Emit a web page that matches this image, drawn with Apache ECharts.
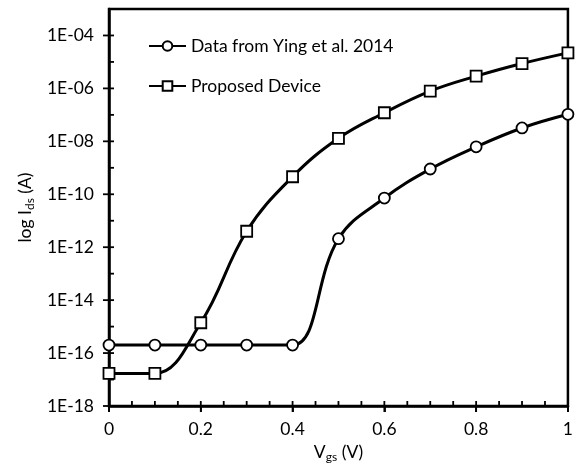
<!DOCTYPE html>
<html>
<head>
<meta charset="utf-8">
<script src="https://cdn.jsdelivr.net/npm/echarts@6/dist/echarts.min.js"></script>
<style>html,body{margin:0;padding:0;background:#fff;}#c{width:576px;height:471px;}</style>
</head>
<body>
<div id="c"></div>
<script>
var vgs = [0, 0.1, 0.2, 0.3, 0.4, 0.5, 0.6, 0.7, 0.8, 0.9, 1.0];
var yingData = [2e-16, 2e-16, 2e-16, 2e-16, 2e-16, 2.1e-12, 7.2e-11, 9e-10, 6.2e-9, 3.2e-8, 1.05e-7];
var proposedData = [1.7e-17, 1.7e-17, 1.4e-15, 4e-12, 4.6e-10, 1.3e-8, 1.2e-7, 7.9e-7, 2.9e-6, 8.7e-6, 2.2e-5];
var seriesNames = ['Data from Ying et al. 2014', 'Proposed Device'];
var xTickValues = [0, 0.2, 0.4, 0.6, 0.8, 1];
var yTickExponents = [-18, -16, -14, -12, -10, -8, -6, -4];
var yMin = 1e-18, yMax = 1e-3;

function pair(xs, ys) { return xs.map(function (x, i) { return [x, ys[i]]; }); }
function fmtExp(v) {
  var e = Math.round(Math.log10(v));
  if (yTickExponents.indexOf(e) < 0) return '';
  var a = Math.abs(e);
  return '1E' + (e < 0 ? '-' : '+') + (a < 10 ? '0' : '') + a;
}

// tick positions (minor every 0.05 on x, every decade on y)
var xTickData = [];
for (var i = 0; i <= 20; i++) {
  var xv = i / 20;
  var maj = xTickValues.some(function (t) { return Math.abs(t - xv) < 1e-9; }) ? 1 : 0;
  xTickData.push([xv, yMin, maj]);
}
var yTickData = [];
for (var e = -18; e <= -3; e++) {
  yTickData.push([0, Math.pow(10, e), yTickExponents.indexOf(e) >= 0 ? 1 : 0]);
}

var FONT = 'Lato';
var FS = 17.5;
var chart = echarts.init(document.getElementById('c'), null, { renderer: 'canvas' });
chart.setOption({
  animation: false,
  backgroundColor: '#fff',
  textStyle: { fontFamily: FONT, color: '#000' },
  grid: { left: 109, right: 6, top: 9, bottom: 65, show: true, borderColor: '#000', borderWidth: 2.5 },
  legend: {
    orient: 'vertical', left: 143, top: 32, itemGap: 22, itemWidth: 37, itemHeight: 12,
    textStyle: { fontFamily: FONT, fontSize: FS, color: '#000' },
    data: seriesNames
  },
  xAxis: {
    type: 'value', min: 0, max: 1, interval: 0.2,
    name: '{m|V}{s|gs}{m| (V)}', nameLocation: 'middle', nameGap: 36,
    nameTextStyle: { rich: { m: { fontFamily: FONT, fontSize: FS, color: '#000' }, s: { fontFamily: FONT, fontSize: 12, color: '#000', verticalAlign: 'bottom', padding: [9, 0, 0, 0] } } },
    axisLine: { show: true, lineStyle: { color: '#000', width: 2.5 } },
    axisTick: { show: true, inside: false, length: 6, lineStyle: { color: '#000', width: 1.8 } },
    axisLabel: { fontFamily: FONT, fontSize: FS, color: '#000', margin: 14, formatter: function (v) { return String(+(+v).toFixed(1)); } },
    splitLine: { show: false }
  },
  yAxis: {
    type: 'log', logBase: 10, min: yMin, max: yMax, interval: 2,
    name: '{m|log I}{s|ds}{m| (A)}', nameLocation: 'middle', nameGap: 70, nameRotate: 90,
    nameTextStyle: { rich: { m: { fontFamily: FONT, fontSize: FS, color: '#000' }, s: { fontFamily: FONT, fontSize: 12, color: '#000', verticalAlign: 'bottom', padding: [9, 0, 0, 0] } } },
    axisLine: { show: true, lineStyle: { color: '#000', width: 2.5 } },
    axisTick: { show: false },
    axisLabel: { fontFamily: FONT, fontSize: FS, color: '#000', margin: 15, formatter: fmtExp },
    splitLine: { show: false }
  },
  series: [{
    name: seriesNames[0], type: 'line', data: pair(vgs, yingData), smooth: 0.4,
    symbol: 'circle', symbolSize: 11,
    lineStyle: { color: '#000', width: 3 },
    itemStyle: { color: '#fff', borderColor: '#000', borderWidth: 1.8 },
    emphasis: { disabled: true }
  }, {
    name: seriesNames[1], type: 'line', data: pair(vgs, proposedData), smooth: 0.4,
    symbol: 'rect', symbolSize: 11,
    lineStyle: { color: '#000', width: 3 },
    itemStyle: { color: '#fff', borderColor: '#000', borderWidth: 1.8 },
    emphasis: { disabled: true }
  }, {
    name: 'xticks', type: 'custom', data: xTickData, clip: false, silent: true, z: 10,
    encode: { x: 0, y: 1 },
    renderItem: function (params, api) {
      var p = api.coord([api.value(0), api.value(1)]);
      var major = api.value(2) === 1;
      return { type: 'line', shape: { x1: p[0], y1: p[1] + (major ? 6 : 0), x2: p[0], y2: p[1] - 5 }, style: { stroke: '#000', lineWidth: 1.8 } };
    }
  }, {
    name: 'yticks', type: 'custom', data: yTickData, clip: false, silent: true, z: 10,
    encode: { x: 0, y: 1 },
    renderItem: function (params, api) {
      var p = api.coord([api.value(0), api.value(1)]);
      var major = api.value(2) === 1;
      return { type: 'line', shape: { x1: p[0] - (major ? 6 : 0), y1: p[1], x2: p[0] + 5, y2: p[1] }, style: { stroke: '#000', lineWidth: 1.8 } };
    }
  }]
});
</script>
</body>
</html>
